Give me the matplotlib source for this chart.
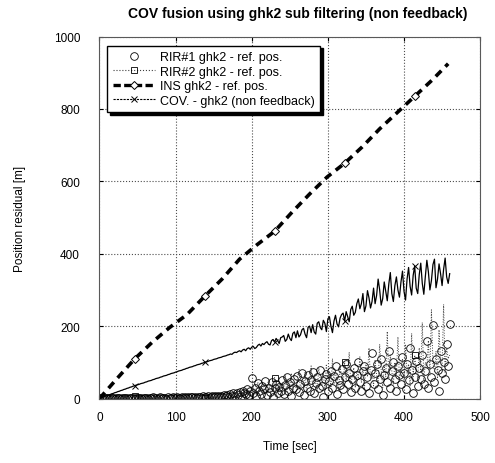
import numpy as np
import matplotlib
matplotlib.use('Agg')
import matplotlib.pyplot as plt
from matplotlib.lines import Line2D

plt.rcParams['font.family'] = ['Liberation Sans', 'DejaVu Sans']

# time axis (sec) for the sampled residuals, every 2 s
t_fine = np.arange(0, 462, 2)

# COV - ghk2 (non feedback)
cov = [
    0, 2, 4, 5, 7, 8, 10, 11, 13, 14,
    16, 17, 19, 20, 22, 23, 25, 26, 28, 29,
    31, 32, 34, 35, 37, 38, 39, 41, 42, 43,
    45, 46, 48, 49, 50, 52, 53, 55, 56, 57,
    59, 60, 62, 63, 64, 66, 67, 69, 70, 71,
    73, 74, 76, 77, 78, 80, 81, 83, 84, 86,
    87, 88, 90, 91, 93, 94, 95, 97, 98, 100,
    101, 102, 104, 105, 106, 108, 109, 110, 112, 113,
    114, 116, 117, 118, 120, 121, 123, 122, 126, 128,
    127, 130, 132, 129, 134, 136, 132, 138, 140, 136,
    142, 144, 138, 141, 147, 150, 145, 152, 149, 154,
    157, 150, 148, 160, 163, 156, 166, 160, 152, 168,
    170, 174, 158, 163, 178, 166, 160, 180, 184, 168,
    187, 170, 176, 190, 194, 178, 168, 197, 200, 182,
    204, 184, 178, 208, 212, 196, 190, 216, 208, 185,
    220, 226, 200, 182, 214, 230, 206, 198, 222, 232,
    236, 214, 240, 226, 212, 246, 255, 230, 238, 262,
    275, 248, 262, 290, 240, 256, 298, 278, 250, 268,
    305, 262, 285, 330, 300, 258, 276, 322, 296, 270,
    316, 348, 290, 268, 312, 336, 300, 280, 322, 352,
    296, 272, 330, 362, 310, 286, 340, 366, 305, 290,
    342, 374, 318, 288, 337, 382, 350, 300, 326, 370,
    385, 306, 330, 372, 345, 312, 357, 388, 336, 318,
    345,
]

# RIR#1 ghk2 - ref. pos.
rir1 = [
    2, 1, 0, 1, 2, 1, 0, 2, 1, 1,
    0, 1, 2, 1, 0, 2, 1, 1, 2, 0,
    1, 2, 1, 0, 2, 1, 2, 1, 0, 2,
    1, 2, 0, 1, 2, 3, 1, 2, 0, 2,
    3, 1, 2, 2, 0, 3, 1, 2, 3, 1,
    2, 3, 1, 2, 4, 1, 3, 2, 4, 1,
    3, 5, 2, 4, 1, 5, 3, 2, 6, 3,
    4, 6, 2, 5, 7, 3, 6, 4, 8, 5,
    7, 3, 9, 6, 10, 5, 12, 8, 14, 7,
    16, 10, 18, 8, 22, 14, 12, 25, 9, 20,
    58, 15, 30, 8, 42, 20, 12, 35, 25, 48,
    10, 30, 18, 45, 5, 28, 40, 15, 33, 22,
    50, 12, 38, 60, 20, 45, 8, 30, 55, 25,
    62, 18, 40, 70, 10, 48, 30, 65, 22, 52,
    72, 15, 42, 60, 28, 80, 35, 5, 55, 68,
    20, 48, 75, 30, 62, 90, 12, 50, 38, 82,
    25, 60, 95, 40, 70, 18, 55, 85, 30, 65,
    100, 45, 20, 75, 90, 35, 60, 15, 80, 125,
    40, 70, 95, 25, 55, 110, 10, 65, 85, 45,
    130, 30, 75, 100, 55, 20, 90, 65, 40, 115,
    70, 25, 95, 50, 140, 80, 15, 60, 105, 35,
    85, 55, 120, 40, 75, 160, 30, 95, 60, 202,
    45, 110, 80, 20, 130, 70, 100, 55, 150, 90,
    205,
]

# RIR#2 ghk2 - ref. pos.
rir2 = [
    1, 2, 1, 0, 1, 2, 1, 1, 0, 2,
    1, 0, 2, 1, 1, 2, 0, 1, 2, 1,
    2, 1, 0, 8, 1, 2, 1, 0, 2, 1,
    2, 1, 0, 2, 1, 3, 2, 1, 2, 0,
    2, 3, 1, 0, 2, 3, 1, 2, 2, 1,
    3, 1, 2, 4, 2, 1, 3, 4, 2, 3,
    2, 4, 5, 3, 2, 6, 4, 3, 5, 2,
    6, 3, 5, 7, 4, 8, 3, 6, 9, 5,
    8, 11, 6, 9, 13, 7, 10, 15, 8, 12,
    18, 9, 14, 20, 11, 24, 15, 10, 28, 16,
    20, 35, 12, 28, 45, 18, 32, 10, 40, 22,
    30, 52, 15, 38, 25, 58, 12, 35, 48, 20,
    42, 28, 65, 18, 50, 35, 70, 22, 45, 30,
    58, 80, 25, 48, 35, 72, 15, 55, 40, 90,
    30, 62, 45, 20, 85, 50, 35, 70, 25, 95,
    48, 65, 30, 110, 40, 75, 55, 20, 88, 60,
    35, 100, 50, 70, 128, 40, 60, 85, 30, 75,
    55, 115, 45, 80, 25, 95, 60, 140, 50, 70,
    35, 105, 65, 45, 150, 80, 30, 90, 60, 185,
    55, 120, 75, 40, 100, 65, 170, 50, 85, 110,
    45, 150, 70, 95, 35, 180, 60, 120, 80, 55,
    140, 70, 210, 50, 100, 85, 160, 65, 245, 95,
    75, 130, 55, 190, 100, 85, 260, 70, 140, 110,
    120,
]

# INS ghk2 - ref. pos.
t_ins = [0, 23, 46, 69, 92, 115, 138, 161, 184, 207, 230,
         253, 276, 299, 322, 345, 368, 391, 414, 437, 458]
ins = [0, 55, 109, 155, 196, 232, 282, 330, 385, 425, 462,
       515, 565, 612, 650, 695, 745, 790, 835, 880, 925]


fig = plt.figure(figsize=(4.95, 4.64), dpi=100)
ax = fig.add_axes([0.201, 0.139, 0.769, 0.780])

ax.plot(t_fine, rir1, linestyle='none', marker='o', ms=5.5, mfc='none',
        mec='black', mew=0.6)
ax.plot(t_fine, rir2, linestyle=':', color='0.25', lw=0.7, marker='s',
        ms=5, mfc='none', mec='black', mew=0.6, markevery=(23, 46))
ax.plot(t_ins, ins, linestyle=(0, (2.2, 1.6)), color='black', lw=2.6,
        marker='D', ms=4, mfc='white', mec='black', mew=0.7,
        markevery=(2, 4))
# dense noisy record: drawn solid, legend shows the dotted style
ax.plot(t_fine, cov, linestyle='-', color='black', lw=0.9,
        marker='x', ms=5, mew=0.7, markevery=(23, 46))

handles = [
    Line2D([], [], linestyle='none', marker='o', ms=5.5, mfc='none',
           mec='black', mew=0.6),
    Line2D([], [], linestyle=':', color='0.25', lw=0.8, marker='s', ms=5,
           mfc='none', mec='black', mew=0.6),
    Line2D([], [], linestyle=(0, (2.2, 1.0)), color='black', lw=2.4,
           marker='D', ms=4, mfc='white', mec='black', mew=0.7),
    Line2D([], [], linestyle=(0, (2, 1)), color='black', lw=0.8,
           marker='x', ms=5, mew=0.7),
]
labels = ['RIR#1 ghk2 - ref. pos.', 'RIR#2 ghk2 - ref. pos.',
          'INS ghk2 - ref. pos.', 'COV. - ghk2 (non feedback)']

ax.set_xlim(0, 500)
ax.set_ylim(0, 1000)
ax.set_xticks(np.arange(0, 501, 100))
ax.set_yticks(np.arange(0, 1001, 200))
ax.grid(True, linestyle=':', color='0.3', lw=0.8)
ax.tick_params(direction='in', top=True, right=True, length=3,
               labelsize=8.5)
ax.tick_params(axis='y', pad=14)
ax.tick_params(axis='x', pad=9)
for s in ax.spines.values():
    s.set_linewidth(0.8)
    s.set_color('0.35')

ax.set_title('COV fusion using ghk2 sub filtering (non feedback)',
             fontsize=10, fontweight='bold', pad=14, x=0.52)
ax.set_xlabel('Time [sec]', fontsize=8.5, labelpad=12)
ax.set_ylabel('Position residual [m]', fontsize=8.5, labelpad=20)

leg = ax.legend(handles, labels, loc='upper left',
                bbox_to_anchor=(0.02, 0.975),
                fontsize=9, frameon=True, fancybox=False,
                shadow={'color': 'black', 'alpha': 1.0},
                handlelength=3.4, labelspacing=0.2, borderpad=0.45,
                handletextpad=0.35, borderaxespad=0)
leg.get_frame().set_edgecolor('black')
leg.get_frame().set_linewidth(1.0)

fig.savefig('out.png', dpi=100)
